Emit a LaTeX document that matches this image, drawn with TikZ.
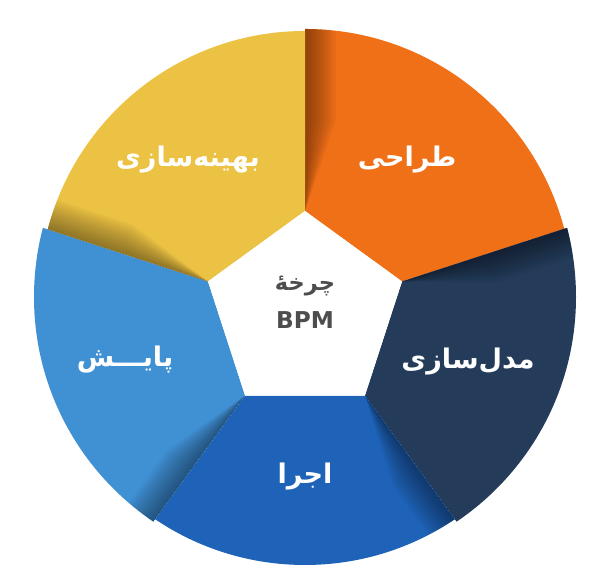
\documentclass[tikz,border=0pt]{standalone}
\usepackage{tikz}
\usepackage{tkz-euclide}
\usetikzlibrary{calc,intersections,through,backgrounds,positioning}
\usepackage{fontspec}
\newfontfamily\farsi[Script=Arabic]{DejaVu Sans}
\TeXXeTstate=1
\definecolor{tarahi}{HTML}{F07018}
\definecolor{model}{HTML}{243C5A}
\definecolor{ejra}{HTML}{1E63B8}
\definecolor{payesh}{HTML}{4090D4}
\definecolor{behine}{HTML}{ECC244}
\definecolor{matn}{HTML}{4D4D4D}
\tikzset{lbl/.style={text=white,font=\farsi\bfseries\fontsize{7.7}{9}\selectfont}}
\begin{document}
\begin{tikzpicture}[scale=1]
                \useasboundingbox (0,0) rectangle (6,5.87);
                \tkzDefPoint(3.05,2.90){C}
                \tkzDefPoint(3.05,2.74){P}
                \foreach \a/\col/\rr in {90/tarahi/2.68,18/model/2.71,-54/ejra/2.68,-126/payesh/2.71,162/behine/2.66}{
                  \pgfmathsetmacro\b{\a-72}
                  \pgfmathsetmacro\m{\a-36}
                  \begin{scope}
                    \clip (C) circle (\rr);
                    \clip ($(P)+(\a:1.02)$) -- ($(P)+(\a:5)$) -- ($(P)+(\m:5)$)
                          -- ($(P)+(\b:5)$) -- ($(P)+(\b:1.02)$) -- cycle;
                    \fill[\col] (0,0) rectangle (6,5.87);
                    \begin{scope}[shift={($(P)+(\a:1.02)$)},rotate=\a]
                      \foreach \k in {1,...,14}
                        \fill[black,opacity=0.03] (0,0) -- (4,0) -- (4,-0.022*\k)
                              -- (0.9,-0.022*\k) -- cycle;
                    \end{scope}
                  \end{scope}
                }
                \fill[white] ($(P)+(90:1.02)$) -- ($(P)+(18:1.02)$) -- ($(P)+(-54:1.02)$)
                      -- ($(P)+(-126:1.02)$) -- ($(P)+(162:1.02)$) -- cycle;
                %\tkzDrawPoints(C,P)
                \node[lbl] (design) at (4.07,4.27) {\beginR طراحی\endR};
                \node[lbl] (modeling) at (4.68,2.25) {\beginR مدل^^^^200cسازی\endR};
                \node[lbl] (execute) at (3.05,1.10) {\beginR اجرا\endR};
                \node[lbl] (monitor) at (1.25,2.27) {\beginR پایـــش\endR};
                \node[lbl] (optimize) at (1.88,4.27) {\beginR بهینه^^^^200cسازی\endR};
                \node[text=matn,font=\farsi\bfseries\fontsize{6.4}{8}\selectfont] (cycle) at (3.05,3.01) {\beginR چرخهٔ\endR};
                \node[text=matn,font=\farsi\bfseries\fontsize{6.6}{8}\selectfont] (bpm) at (3.05,2.67) {BPM};
            \end{tikzpicture}
\end{document}
